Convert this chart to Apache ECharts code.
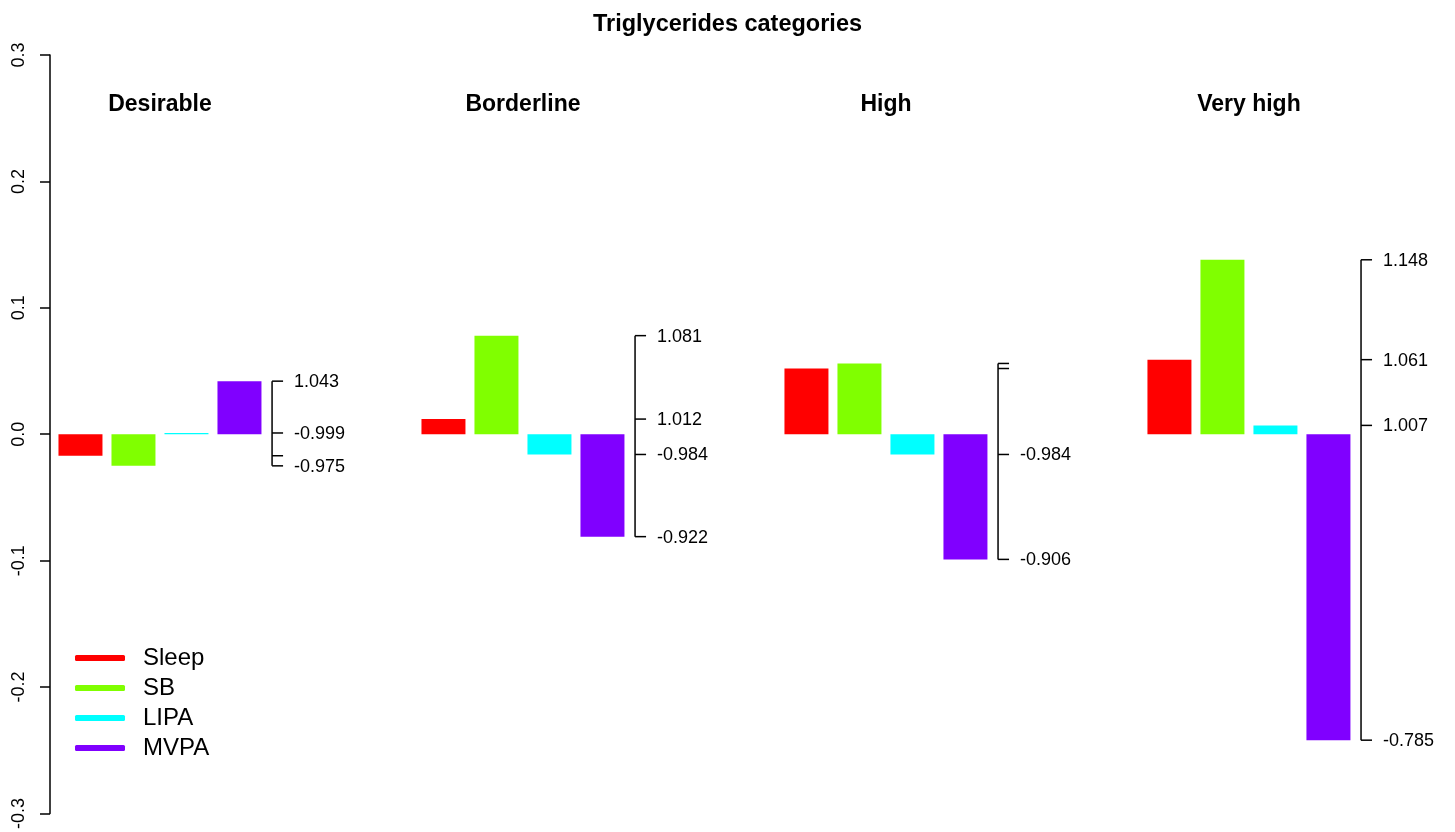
<!DOCTYPE html>
<html>
<head>
<meta charset="utf-8">
<title>Triglycerides categories</title>
<script src="https://cdn.jsdelivr.net/npm/echarts@6/dist/echarts.min.js"></script>
<style>
  html, body { margin: 0; padding: 0; background: #ffffff; }
  #chart { width: 1455px; height: 832px; }
</style>
</head>
<body>
<div id="chart"></div>
<script>
// Triglycerides categories and the four behaviours compared in each
const categories = ['Desirable', 'Borderline', 'High', 'Very high'];
const behaviours = ['Sleep', 'SB', 'LIPA', 'MVPA'];

// Coefficients (log scale), one value per category
const sleep = [-0.017, 0.012, 0.052, 0.059];
const sb    = [-0.025, 0.078, 0.056, 0.138];
const lipa  = [0.001, -0.016, -0.016, 0.007];
const mvpa  = [0.042, -0.081, -0.099, -0.242];

// Ratio labels printed on the small axis next to each category ('' = not printed)
const sleepLabels = ['', '1.012', '', '1.061'];
const sbLabels    = ['-0.975', '1.081', '', '1.148'];
const lipaLabels  = ['-0.999', '-0.984', '-0.984', '1.007'];
const mvpaLabels  = ['1.043', '-0.922', '-0.906', '-0.785'];

// Main axis ticks
const yMin = -0.3, yMax = 0.3, yStep = 0.1;

const colors = ['#FF0000', '#80FF00', '#00FFFF', '#8000FF'];
const values = [sleep, sb, lipa, mvpa];
const labels = [sleepLabels, sbLabels, lipaLabels, mvpaLabels];

// Layout in bar-slot units along the hidden x axis
const GROUP_STEP = 6.849;
const BAR_OFFSET = 0.575;
const BAR_W = 0.83;
const SIDE_AXIS_OFFSET = 4.19;
const X_MAX = 26.51;
const FONT = '"Liberation Sans", Arial, sans-serif';

function barSeries(idx) {
  return {
    type: 'custom',
    name: behaviours[idx],
    coordinateSystem: 'cartesian2d',
    itemStyle: { color: colors[idx] },
    data: values[idx].map((v, g) => [g, v]),
    renderItem: function (params, api) {
      const g = api.value(0), v = api.value(1);
      const xc = g * GROUP_STEP + idx + BAR_OFFSET;
      const p0 = api.coord([xc - BAR_W / 2, 0]);
      const p1 = api.coord([xc + BAR_W / 2, v]);
      return {
        type: 'rect',
        shape: {
          x: p0[0], y: Math.min(p0[1], p1[1]),
          width: p1[0] - p0[0], height: Math.max(1, Math.abs(p1[1] - p0[1]))
        },
        style: { fill: colors[idx] }
      };
    }
  };
}

// Small ratio axis drawn to the right of each category's bars
const sideAxisSeries = {
  type: 'custom',
  name: 'ratio axis',
  coordinateSystem: 'cartesian2d',
  silent: true,
  data: categories.map((c, g) => [g, 0]),
  renderItem: function (params, api) {
    const g = api.value(0);
    const xa = g * GROUP_STEP + SIDE_AXIS_OFFSET;
    const vals = values.map(arr => arr[g]);
    const hi = Math.max.apply(null, vals), lo = Math.min.apply(null, vals);
    const top = api.coord([xa, hi]), bot = api.coord([xa, lo]);
    const children = [{
      type: 'line',
      shape: { x1: top[0], y1: top[1], x2: bot[0], y2: bot[1] },
      style: { stroke: '#000', lineWidth: 1.5 }
    }];
    vals.forEach((v, i) => {
      const p = api.coord([xa, v]);
      children.push({
        type: 'line',
        shape: { x1: p[0], y1: p[1], x2: p[0] + 11, y2: p[1] },
        style: { stroke: '#000', lineWidth: 1.5 }
      });
      const txt = labels[i][g];
      if (txt) {
        children.push({
          type: 'text',
          style: {
            x: p[0] + 22, y: p[1] + 1, text: txt,
            fill: '#000', font: '18px ' + FONT,
            textAlign: 'left', textVerticalAlign: 'middle'
          }
        });
      }
    });
    return { type: 'group', children: children };
  }
};

// Category names above each group of bars
const categoryTitleSeries = {
  type: 'custom',
  name: 'category titles',
  coordinateSystem: 'cartesian2d',
  silent: true,
  data: categories.map((c, g) => [g, 0.261]),
  renderItem: function (params, api) {
    const g = api.value(0);
    const p = api.coord([g * GROUP_STEP + BAR_OFFSET + 1.5, api.value(1)]);
    return {
      type: 'text',
      style: {
        x: p[0], y: p[1], text: categories[g],
        fill: '#000', font: 'bold 23px ' + FONT,
        textAlign: 'center', textVerticalAlign: 'middle'
      }
    };
  }
};

const chart = echarts.init(document.getElementById('chart'), null, { renderer: 'canvas' });
chart.setOption({
  animation: false,
  backgroundColor: '#ffffff',
  title: {
    text: 'Triglycerides categories',
    left: 'center',
    top: 8,
    textStyle: { fontFamily: FONT, fontWeight: 'bold', fontSize: 23.5, color: '#000' }
  },
  legend: {
    data: behaviours,
    orient: 'vertical',
    left: 70,
    top: 641,
    icon: 'roundRect',
    itemWidth: 50,
    itemHeight: 6,
    itemGap: 6,
    selectedMode: false,
    textStyle: { fontFamily: FONT, fontSize: 24, color: '#000', lineHeight: 23, height: 23, padding: [0, 0, 0, 13] }
  },
  grid: { left: 50, right: 0, top: 55, bottom: 18, containLabel: false },
  xAxis: { type: 'value', min: 0, max: X_MAX, show: false },
  yAxis: {
    type: 'value',
    min: yMin,
    max: yMax,
    interval: yStep,
    splitLine: { show: false },
    axisLine: { show: true, lineStyle: { color: '#000', width: 1.5 } },
    axisTick: { show: true, length: 10, lineStyle: { color: '#000', width: 1.5 } },
    axisLabel: {
      rotate: 90,
      margin: 22,
      fontFamily: FONT,
      fontSize: 18,
      color: '#000',
      formatter: v => v.toFixed(1)
    }
  },
  series: [0, 1, 2, 3].map(barSeries).concat([sideAxisSeries, categoryTitleSeries])
});
</script>
</body>
</html>
